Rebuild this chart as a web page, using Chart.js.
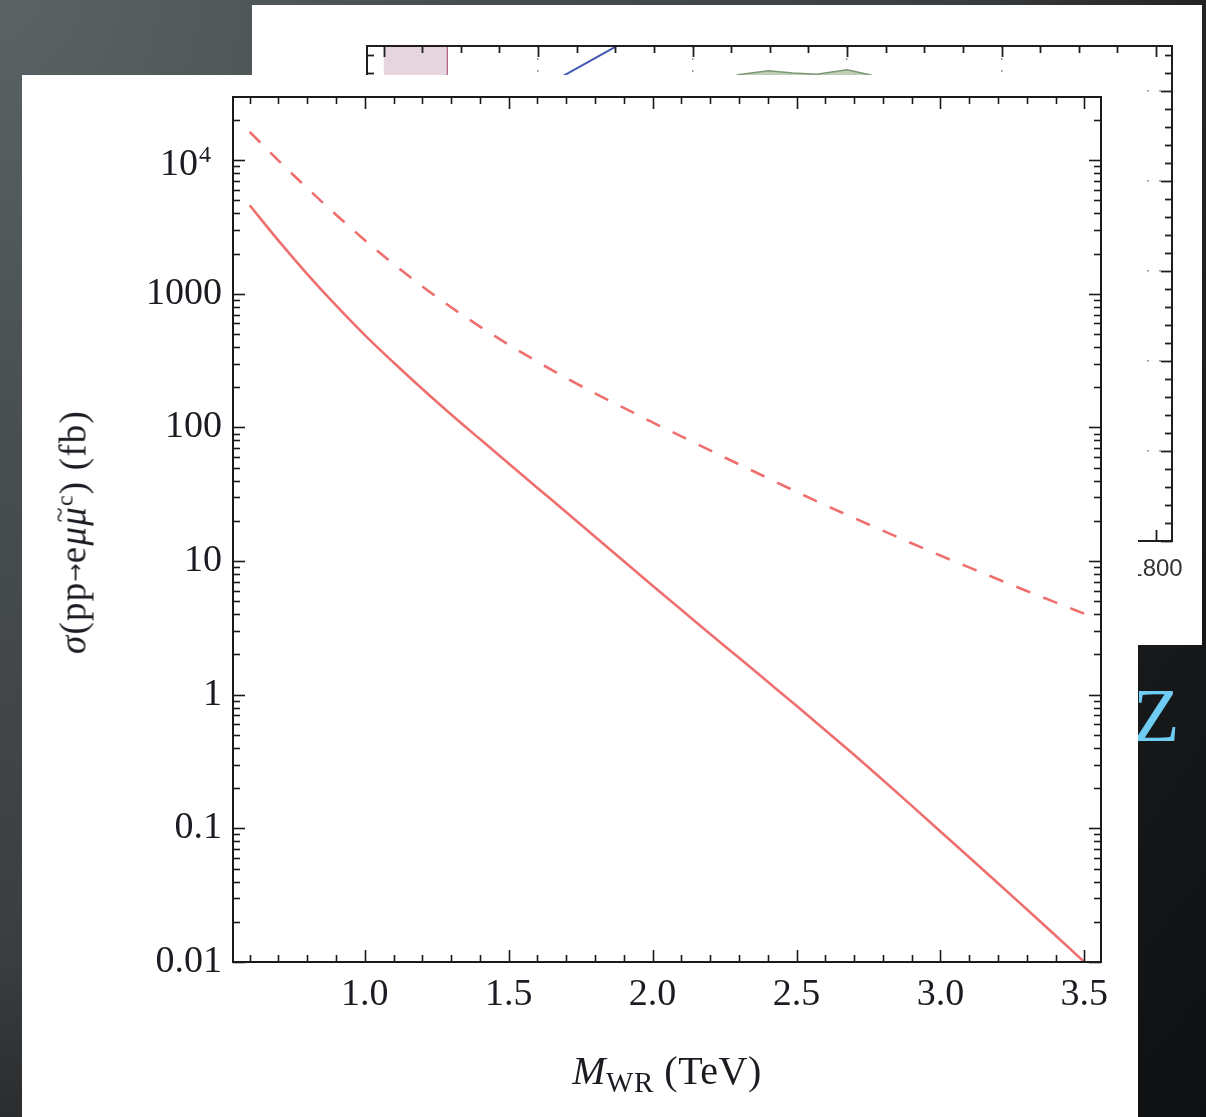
<!DOCTYPE html>
<html>
<head>
<meta charset="utf-8">
<script src="https://cdn.jsdelivr.net/npm/chart.js@4.4.1/dist/chart.umd.min.js"></script>
<style>
  html, body { margin: 0; padding: 0; }
  body {
    width: 1206px; height: 1117px; overflow: hidden; position: relative;
    background: radial-gradient(circle at 0 0, #5a6365 0px, #484e50 450px, #3b3e40 950px, #18191b 1300px, #0e1011 1650px);
  }
  #back { position: absolute; left: 252px; top: 5px; width: 950px; height: 640px; background: #fff; }
  #front { position: absolute; left: 22px; top: 75px; width: 1116px; height: 1042px; background: #fff; }
  #slideTitle {
    position: absolute; left: 1133px; top: 677px; margin: 0;
    font: 76px/76px "Liberation Serif", serif; color: #6fcdf3;
  }
  .xtitle {
    position: absolute; left: 645px; top: 976px; transform: translateX(-50%);
    font: 40px/40px "Liberation Serif", serif; color: #1b1b22; white-space: nowrap;
    letter-spacing: 0.5px;
  }
  .xtitle sub { font-size: 29px; vertical-align: -8px; }
  .ytitle {
    position: absolute; left: 47px; top: 457px;
    transform: translate(-50%, -50%) rotate(-90deg);
    font: 37px/37px "Liberation Serif", serif; color: #1b1b22; white-space: nowrap;
    letter-spacing: 1.2px;
  }
  .ytitle sup { font-size: 24px; vertical-align: 13px; }
  .ytitle .arrow { font: 22px "DejaVu Sans", sans-serif; vertical-align: 3px; letter-spacing: 0; }
  .ytitle .tl { position: relative; }
  .ytitle .tl::after {
    content: '~'; position: absolute; left: 0.12em; top: -0.42em;
    font-style: normal; font-size: 28px;
  }
</style>
</head>
<body>
<div id="slideTitle">Z</div>
<div id="back"><canvas id="backChart" width="950" height="640"></canvas></div>
<div id="front">
  <canvas id="mainChart" width="1116" height="1042"></canvas>
  <div class="ytitle"><i>σ</i>(pp<span class="arrow">→</span>e<i>μ</i><i class="tl">μ</i><sup>c</sup>) (fb)</div>
  <div class="xtitle"><i>M</i><sub>WR</sub> (TeV)</div>
</div>
<script>
// W_R mass (TeV) and cross sections (fb)
const mwr = [0.6, 0.7, 0.8, 0.9, 1.0, 1.1, 1.2, 1.3, 1.4, 1.5, 1.6, 1.7, 1.8, 1.9, 2.0,
             2.1, 2.2, 2.3, 2.4, 2.5, 2.6, 2.7, 2.8, 2.9, 3.0, 3.1, 3.2, 3.3, 3.4, 3.5];
const sigmaSolid = [4600, 2500, 1406, 818, 491, 306, 194, 125, 81.8, 53.8, 35.3, 23.2, 15.2, 9.98, 6.55,
                    4.32, 2.85, 1.89, 1.25, 0.826, 0.543, 0.355, 0.230, 0.148, 0.0948, 0.0608, 0.0389, 0.0248, 0.0158, 0.0100];
const sigmaDashed = [16290, 9930, 6170, 3910, 2520, 1667, 1135, 794, 569, 416, 310, 234, 180, 140, 109,
                     85.7, 67.3, 53.0, 41.8, 33.0, 26.2, 21.0, 16.9, 13.6, 11.0, 8.97, 7.31, 5.98, 4.91, 4.04];

// axis ticks ('10^4' gets its exponent drawn as a superscript)
const xMajor = [1.0, 1.5, 2.0, 2.5, 3.0, 3.5];
const yMajor = [0.01, 0.1, 1, 10, 100, 1000, 10000];
const yLabels = ['0.01', '0.1', '1', '10', '100', '1000', '10^4'];

// the chart behind (only its edges show)
const backXMajor = [800, 1000, 1200, 1400, 1600, 1800];
const backYMajor = [0, 1, 2, 3, 4, 5];
const bandX = [800, 882];
const bandTop = [5.5, 5.5];
const blueX = [960, 1035, 1100];
const blueY = [4.82, 5.18, 5.49];
const greenX = [1240, 1259, 1298, 1330, 1361, 1400, 1432, 1460];
const greenY = [5.1, 5.18, 5.225, 5.2, 5.185, 5.235, 5.175, 5.05];

const red = '#ef6f6f';
const ink = '#1b1b22';
const serif = 'Liberation Serif';

function minorBetween(start, end, step, skip) {
  const out = [];
  for (let v = start; v <= end + 1e-9; v += step) {
    const r = Math.round(v * 1000) / 1000;
    if (!skip.some(s => Math.abs(s - r) < 1e-6)) out.push(r);
  }
  return out;
}

function logMinors(lo, hi) {
  const out = [];
  for (let d = lo; d < hi; d *= 10) {
    for (let k = 2; k <= 9; k++) out.push(d * k);
  }
  return out;
}

// keep the plot box where the layout padding puts it
function noEdgePadding(s) {
  s.paddingTop = 0; s.paddingBottom = 0; s.paddingLeft = 0; s.paddingRight = 0;
}

function yLabelFor(v) {
  return yLabels[yMajor.findIndex(m => Math.abs(m - v) / m < 1e-6)];
}

// Mathematica style frame: box plus inward ticks on all four sides
function frameTicks(id, t) {
  return {
    id: id,
    afterDatasetsDraw(chart) {
      const ctx = chart.ctx;
      const a = chart.chartArea;
      const sx = chart.scales.x, sy = chart.scales.y;
      const line = (x1, y1, x2, y2) => { ctx.beginPath(); ctx.moveTo(x1, y1); ctx.lineTo(x2, y2); ctx.stroke(); };
      ctx.save();
      ctx.strokeStyle = t.color;
      ctx.lineWidth = t.tickWidth;
      [[t.xMajor, t.major], [t.xMinor, t.minor]].forEach(([vals, len]) => {
        vals.forEach(v => {
          const x = Math.round(sx.getPixelForValue(v)) + 0.5;
          line(x, a.bottom, x, a.bottom - len);
          line(x, a.top, x, a.top + len);
        });
      });
      [[t.yMajor, t.major], [t.yMinor, t.minor]].forEach(([vals, len]) => {
        vals.forEach(v => {
          const y = Math.round(sy.getPixelForValue(v)) + 0.5;
          line(a.left, y, a.left + len, y);
          line(a.right, y, a.right - len, y);
        });
      });
      ctx.lineWidth = t.frameWidth;
      ctx.strokeRect(a.left, a.top, a.right - a.left, a.bottom - a.top);
      ctx.restore();
    }
  };
}

// power-of-ten labels: base and raised exponent
const powerLabels = {
  id: 'powerLabels',
  afterDraw(chart) {
    const ctx = chart.ctx;
    const a = chart.chartArea;
    const sy = chart.scales.y;
    ctx.save();
    ctx.fillStyle = ink;
    yMajor.forEach(v => {
      const lab = yLabelFor(v);
      if (lab.indexOf('^') < 0) return;
      const [base, exp] = lab.split('^');
      const y = sy.getPixelForValue(v);
      ctx.font = '38px "' + serif + '"';
      ctx.textAlign = 'right';
      ctx.textBaseline = 'middle';
      ctx.fillText(base, a.left - 35, y + 5);
      ctx.font = '24px "' + serif + '"';
      ctx.textAlign = 'left';
      ctx.textBaseline = 'alphabetic';
      ctx.fillText(exp, a.left - 34, y + 2);
    });
    ctx.restore();
  }
};

// main cross-section plot
new Chart(document.getElementById('mainChart'), {
  type: 'line',
  data: {
    datasets: [
      {
        data: mwr.map((m, i) => ({ x: m, y: sigmaDashed[i] })),
        borderColor: red, borderWidth: 2.6, borderDash: [15, 14],
        pointRadius: 0, cubicInterpolationMode: 'monotone', fill: false
      },
      {
        data: mwr.map((m, i) => ({ x: m, y: sigmaSolid[i] })),
        borderColor: red, borderWidth: 2.6,
        pointRadius: 0, cubicInterpolationMode: 'monotone', fill: false
      }
    ]
  },
  options: {
    responsive: false,
    animation: false,
    layout: { padding: { top: 22, right: 37, left: 0, bottom: 0 } },
    plugins: { legend: { display: false }, tooltip: { enabled: false } },
    scales: {
      x: {
        type: 'linear', min: 0.542, max: 3.558,
        grid: { display: false, drawTicks: false },
        border: { display: false },
        afterBuildTicks: s => { s.ticks = xMajor.map(v => ({ value: v })); },
        afterFit: s => { s.height = 155; noEdgePadding(s); },
        ticks: {
          autoSkip: false, maxRotation: 0, padding: 10, color: ink,
          font: { family: serif, size: 38 },
          callback: v => Number(v).toFixed(1)
        }
      },
      y: {
        type: 'logarithmic', min: 0.01, max: 29700,
        grid: { display: false, drawTicks: false },
        border: { display: false },
        afterBuildTicks: s => { s.ticks = yMajor.map(v => ({ value: v })); },
        afterFit: s => { s.width = 211; noEdgePadding(s); },
        ticks: {
          autoSkip: false, padding: 11, color: ink,
          font: { family: serif, size: 38 },
          callback: v => {
            const lab = yLabelFor(v);
            return lab.indexOf('^') < 0 ? lab : '';
          }
        }
      }
    }
  },
  plugins: [frameTicks('mainFrame', {
    xMajor: xMajor, xMinor: minorBetween(0.6, 3.5, 0.1, xMajor),
    yMajor: yMajor, yMinor: logMinors(0.01, 10000).concat([20000]),
    major: 12, minor: 7, tickWidth: 1.6, frameWidth: 2, color: '#1a1a1a'
  }), powerLabels]
});

// chart in the background card
const backGrid = ctx => {
  const v = ctx.tick ? ctx.tick.value : null;
  return (v === 800 || v === 1800) ? 'rgba(0,0,0,0)' : '#9a9a9a';
};

new Chart(document.getElementById('backChart'), {
  type: 'line',
  data: {
    datasets: [
      {
        data: bandX.map((v, i) => ({ x: v, y: bandTop[i] })),
        borderWidth: 0, pointRadius: 0, fill: 'origin', backgroundColor: '#e6d5df'
      },
      {
        data: [{ x: bandX[1], y: 0 }, { x: bandX[1], y: bandTop[1] }],
        borderColor: '#a5507a', borderWidth: 2, pointRadius: 0, fill: false
      },
      {
        data: greenX.map((v, i) => ({ x: v, y: greenY[i] })),
        borderColor: '#7d9875', borderWidth: 1.5, pointRadius: 0, fill: 'origin',
        backgroundColor: '#bdd0b5', tension: 0
      },
      {
        data: blueX.map((v, i) => ({ x: v, y: blueY[i] })),
        borderColor: '#4358b2', borderWidth: 2, pointRadius: 0, fill: false
      }
    ]
  },
  options: {
    responsive: false,
    animation: false,
    layout: { padding: { top: 41, right: 30, left: 0, bottom: 0 } },
    plugins: { legend: { display: false }, tooltip: { enabled: false } },
    scales: {
      x: {
        type: 'linear', min: 778.6, max: 1820.7,
        grid: { color: backGrid, lineWidth: 1.5, drawTicks: false },
        border: { display: false, dash: [2, 10] },
        afterBuildTicks: s => { s.ticks = backXMajor.map(v => ({ value: v })); },
        afterFit: s => { s.height = 104; noEdgePadding(s); },
        ticks: {
          autoSkip: false, maxRotation: 0, padding: 14, color: '#333',
          font: { family: 'Liberation Sans', size: 24 },
          callback: v => String(v)
        }
      },
      y: {
        type: 'linear', min: 0, max: 5.5,
        grid: { color: '#9a9a9a', lineWidth: 1.5, drawTicks: false },
        border: { display: false, dash: [2, 10] },
        afterBuildTicks: s => { s.ticks = backYMajor.map(v => ({ value: v })); },
        afterFit: s => { s.width = 115; noEdgePadding(s); },
        ticks: { display: false }
      }
    }
  },
  plugins: [frameTicks('backFrame', {
    xMajor: backXMajor, xMinor: minorBetween(800, 1800, 50, backXMajor),
    yMajor: backYMajor, yMinor: minorBetween(0.2, 5.4, 0.2, backYMajor),
    major: 11, minor: 7, tickWidth: 1.8, frameWidth: 2, color: '#1e1e1e'
  })]
});
</script>
</body>
</html>
